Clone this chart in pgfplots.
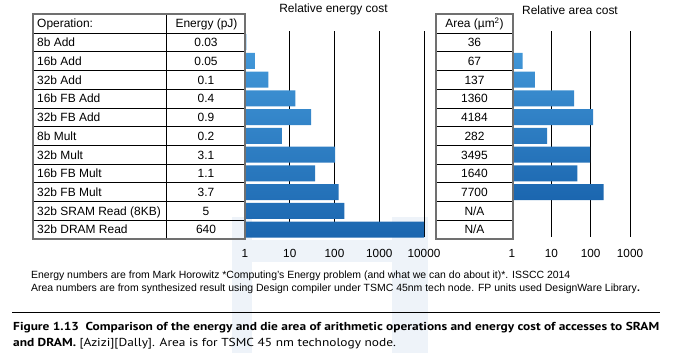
\documentclass[border=0pt]{standalone}
\usepackage{fontspec}
\setmainfont{Liberation Sans}
\newfontfamily\capfont{PT Sans}
\usepackage{graphicx}
\usepackage{pgfplots}
\usepackage{pgfplotstable}
\pgfplotsset{compat=1.18}
\definecolor{bartop}{HTML}{469CDC}
\definecolor{barbot}{HTML}{1B66AF}
\definecolor{wm}{HTML}{EEF3F9}
\definecolor{frame}{HTML}{707070}

\pgfplotstableread{
y  rel
0  1.08
1  1.67
2  3.33
3  13.3
4  30
5  6.67
6  103.3
7  36.7
8  123.3
9  166.7
10 21333
}\energytab
\pgfplotstableread{
y  rel
0  1
1  1.86
2  3.81
3  37.8
4  116.2
5  7.83
6  97.1
7  45.6
8  213.9
}\areatab

\newsavebox\capone
\newsavebox\captwo
\begin{document}
\sbox\capone{\capfont\fontsize{11.6}{14}\selectfont\bfseries Figure 1.13\ \ Comparison of the energy and die area of arithmetic operations and energy cost of accesses to SRAM}%
\sbox\captwo{\capfont\fontsize{11.6}{14}\selectfont\textbf{and DRAM.} [Azizi][Dally]. Area is for TSMC 45 nm technology node.}%
\edef\capw{\the\wd\capone}%
\pgfmathsetmacro\capsx{646bp/\capw}%
\begin{tikzpicture}
\useasboundingbox (0,0) rectangle (675bp,-353bp);
% faint watermark
\fill[wm] (232bp,-217bp) rectangle (252bp,-353bp);
\fill[wm] (392bp,-217bp) rectangle (428bp,-353bp);
\fill[wm] (252bp,-240bp) rectangle (392bp,-262bp);

% energy chart
\begin{axis}[at={(245bp,-31bp)}, anchor=north west,
  scale only axis, width=179bp, height=206bp,
  xmode=log, xmin=1, xmax=10000,
  y dir=reverse, ymin=-0.6, ymax=10.4, ytick=\empty,
  xbar, bar width=16bp,
  xtick={1,10,100,1000,10000},
  xticklabels={1,10,100,1000,10000},
  xmajorgrids, grid style={black, line width=0.9bp},
  axis line style={draw=none}, major tick length=0pt, minor tick length=0pt,
  tick style={draw=none}, minor tick style={draw=none},
  xticklabel style={font=\fontsize{11.8}{12}\selectfont, yshift=-8.6bp}]
\addplot[draw=none, top color=bartop, bottom color=barbot] table[x=rel, y=y] {\energytab};
\end{axis}

% area chart
\begin{axis}[at={(512bp,-31bp)}, anchor=north west,
  scale only axis, width=118bp, height=206bp,
  xmode=log, xmin=1, xmax=1000,
  y dir=reverse, ymin=-0.6, ymax=10.4, ytick=\empty,
  xbar, bar width=16bp,
  xtick={1,10,100,1000},
  xticklabels={1,10,100,1000},
  xmajorgrids, grid style={black, line width=0.9bp},
  axis line style={draw=none}, major tick length=0pt, minor tick length=0pt,
  tick style={draw=none}, minor tick style={draw=none},
  xticklabel style={font=\fontsize{11.8}{12}\selectfont, yshift=-8.6bp}]
\addplot[draw=none, top color=bartop, bottom color=barbot] table[x=rel, y=y] {\areatab};
\end{axis}

\begin{scope}[x=1bp,y=-1bp]
% titles
\node[anchor=base, inner sep=0, font=\fontsize{12}{14}\selectfont] at (333.5,12) {Relative energy cost};
\node[anchor=base, inner sep=0, font=\fontsize{12}{14}\selectfont] at (570,14.3) {Relative area cost};

% tables
\foreach \k in {0,...,10} {
  \draw[black, line width=0.8bp] (33,{33+18.727*\k}) -- (245,{33+18.727*\k});
  \draw[black, line width=0.8bp] (436,{33+18.727*\k}) -- (513,{33+18.727*\k});
}
\draw[black, line width=0.8bp] (166,14) -- (166,239);
\draw[frame, line width=1.2bp] (33,14) rectangle (245,239);
\draw[frame, line width=1.2bp] (436,14) rectangle (513,239);

\begin{scope}[every node/.style={inner sep=0, font=\fontsize{12}{14}\selectfont}]
\node[anchor=base west] at (37,27.8) {Operation:};
\node[anchor=base] at (206.5,27.8) {Energy (pJ)};
\node[anchor=base] at (474.5,27.8) {Area (µm\textsuperscript{2})};
\foreach \k/\op/\en in {
  0/8b Add/0.03,
  1/16b Add/0.05,
  2/32b Add/0.1,
  3/16b FB Add/0.4,
  4/32b FB Add/0.9,
  5/8b Mult/0.2,
  6/32b Mult/3.1,
  7/16b FB Mult/1.1,
  8/32b FB Mult/3.7,
  9/32b SRAM Read (8KB)/5,
  10/32b DRAM Read/640} {
  \node[anchor=base west] at (37,{33+18.727*\k+13.66}) {\op};
  \node[anchor=base] at (206,{33+18.727*\k+13.66}) {\en};
}
\foreach \k/\ar in {0/36,1/67,2/137,3/1360,4/4184,5/282,6/3495,7/1640,8/7700,9/{N{/}A},10/{N{/}A}} {
  \node[anchor=base] at (474.5,{33+18.727*\k+13.66}) {\ar};
}
\end{scope}

% footnotes
\begin{scope}[every node/.style={inner sep=0, anchor=base west, font=\fontsize{10.5}{12}\selectfont}]
\node at (31,278.5) {Energy numbers are from Mark Horowitz *Computing’s Energy problem (and what we can do about it)*. ISSCC 2014};
\node at (31,291.5) {Area numbers are from synthesized result using Design compiler under TSMC 45nm tech node. FP units used DesignWare Library\textbf{.}};
\end{scope}

\draw[black, line width=1bp] (12,312.5) -- (660,312.5);

\node[inner sep=0, anchor=base west] at (13,330.5) {\resizebox{646bp}{\height}{\usebox\capone}};
\node[inner sep=0, anchor=base west] at (13,346) {\scalebox{\capsx}[1]{\usebox\captwo}};
\end{scope}
\end{tikzpicture}
\end{document}
